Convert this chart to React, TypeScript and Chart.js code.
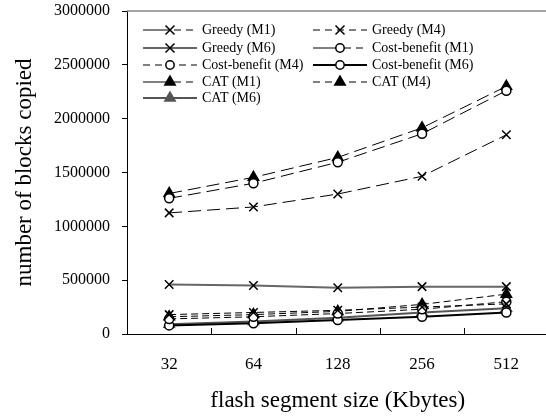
import React, { useEffect, useRef } from "react";
import { Chart, registerables } from "chart.js";

Chart.register(...registerables);

const categories = ["32", "64", "128", "256", "512"];

const greedyM1 = [180000, 200000, 220000, 250000, 280000];
const greedyM4 = [1125000, 1180000, 1300000, 1465000, 1850000];
const greedyM6 = [460000, 450000, 430000, 440000, 440000];
const costBenefitM1 = [140000, 160000, 190000, 230000, 300000];
const costBenefitM4 = [1260000, 1400000, 1595000, 1860000, 2260000];
const costBenefitM6 = [80000, 100000, 130000, 160000, 200000];
const catM1 = [160000, 180000, 210000, 275000, 370000];
const catM4 = [1305000, 1455000, 1640000, 1915000, 2300000];
const catM6 = [90000, 115000, 150000, 200000, 240000];

const yTicksMax = 3000000;
const yTicksStep = 500000;

const xTitle = "flash segment size (Kbytes)";
const yTitle = "number of blocks copied";

const SERIF = "'Liberation Serif', 'Times New Roman', serif";

type Kind = "cross" | "circle" | "triangle";

function drawMarker(ctx: CanvasRenderingContext2D, kind: Kind, x: number, y: number, fill: string) {
  ctx.save();
  ctx.setLineDash([]);
  ctx.strokeStyle = "#000";
  ctx.lineWidth = 1.5;
  if (kind === "cross") {
    const r = 4.5;
    ctx.beginPath();
    ctx.moveTo(x - r, y - r);
    ctx.lineTo(x + r, y + r);
    ctx.moveTo(x + r, y - r);
    ctx.lineTo(x - r, y + r);
    ctx.stroke();
  } else if (kind === "circle") {
    ctx.beginPath();
    ctx.arc(x, y, 4.2, 0, Math.PI * 2);
    ctx.fillStyle = "#fff";
    ctx.fill();
    ctx.stroke();
  } else {
    const r = 6;
    ctx.beginPath();
    ctx.moveTo(x, y - r);
    ctx.lineTo(x + r * 0.866, y + r * 0.5);
    ctx.lineTo(x - r * 0.866, y + r * 0.5);
    ctx.closePath();
    ctx.fillStyle = fill;
    ctx.strokeStyle = fill;
    ctx.fill();
    ctx.stroke();
  }
  ctx.restore();
}

const legendPlugin = {
  id: "customLegend",
  afterDatasetsDraw(chart: any) {
    const ctx: CanvasRenderingContext2D = chart.ctx;
    const area = chart.chartArea;
    ctx.save();
    // top frame line
    ctx.strokeStyle = "#888";
    ctx.lineWidth = 1.5;
    ctx.beginPath();
    ctx.moveTo(area.left, area.top);
    ctx.lineTo(area.right + 5, area.top);
    ctx.stroke();

    // inward x tick marks at category boundaries
    const xs = chart.scales.x;
    ctx.strokeStyle = "#000";
    ctx.lineWidth = 1;
    for (let i = 1; i < categories.length; i++) {
      const px = Math.round((xs.getPixelForValue(i - 1) + xs.getPixelForValue(i)) / 2) + 0.5;
      ctx.beginPath();
      ctx.moveTo(px, area.bottom);
      ctx.lineTo(px, area.bottom - 6);
      ctx.stroke();
    }

    // legend
    const rowY = [30, 48, 65, 82, 98];
    const colLine = [143, 313];
    const lineLen = 54;
    ctx.font = `14px ${SERIF}`;
    ctx.textBaseline = "middle";
    ctx.textAlign = "left";
    chart.data.datasets.forEach((ds: any, i: number) => {
      const row = Math.floor(i / 2);
      const col = i % 2;
      const y = rowY[row];
      const x0 = colLine[col];
      const x1 = x0 + lineLen;
      const mid = (x0 + x1) / 2;
      ctx.strokeStyle = ds.borderColor;
      ctx.lineWidth = ds.borderWidth;
      if (ds.legendPattern === "solid") {
        ctx.setLineDash([]);
        ctx.beginPath();
        ctx.moveTo(x0, y);
        ctx.lineTo(x1, y);
        ctx.stroke();
      } else if (ds.legendPattern === "half") {
        ctx.setLineDash([]);
        ctx.beginPath();
        ctx.moveTo(x0, y);
        ctx.lineTo(mid, y);
        ctx.stroke();
        ctx.setLineDash([7, 5]);
        ctx.beginPath();
        ctx.moveTo(mid + 4, y);
        ctx.lineTo(x1, y);
        ctx.stroke();
      } else {
        ctx.setLineDash([7, 5]);
        ctx.beginPath();
        ctx.moveTo(x0, y);
        ctx.lineTo(x1, y);
        ctx.stroke();
      }
      ctx.setLineDash([]);
      drawMarker(ctx, ds.markerKind, mid, y, ds.pointBackgroundColor);
      ctx.fillStyle = "#000";
      ctx.fillText(ds.label, x1 + 5, y);
    });
    ctx.restore();
  },
};

export default function App() {
  const ref = useRef<HTMLCanvasElement>(null);

  useEffect(() => {
    const mk = (
      label: string,
      data: number[],
      kind: Kind,
      line: "m1" | "m4" | "m6",
      color: string,
      fill: string
    ) => {
      const pointStyle = kind === "cross" ? "crossRot" : kind === "circle" ? "circle" : "triangle";
      return {
        label,
        data,
        markerKind: kind,
        legendPattern: line === "m1" ? "half" : line === "m4" ? "dash" : "solid",
        borderColor: color,
        borderWidth: line === "m6" ? 2 : 1,
        borderDash: line === "m1" ? [7, 4] : line === "m4" ? [13, 6] : [],
        pointStyle,
        pointRadius: kind === "cross" ? 6 : kind === "circle" ? 4.5 : 6,
        pointBorderColor: kind === "triangle" ? fill : "#000",
        pointBorderWidth: 1.5,
        pointBackgroundColor: fill,
        tension: 0,
        fill: false,
      };
    };

    const datasets = [
      mk("Greedy (M1)", greedyM1, "cross", "m1", "#000", "#000"),
      mk("Greedy (M4)", greedyM4, "cross", "m4", "#000", "#000"),
      mk("Greedy (M6)", greedyM6, "cross", "m6", "#666", "#000"),
      mk("Cost-benefit (M1)", costBenefitM1, "circle", "m1", "#000", "#fff"),
      mk("Cost-benefit (M4)", costBenefitM4, "circle", "m4", "#000", "#fff"),
      mk("Cost-benefit (M6)", costBenefitM6, "circle", "m6", "#000", "#fff"),
      mk("CAT (M1)", catM1, "triangle", "m1", "#000", "#000"),
      mk("CAT (M4)", catM4, "triangle", "m4", "#000", "#000"),
      mk("CAT (M6)", catM6, "triangle", "m6", "#555", "#555"),
    ];

    const chart = new Chart(ref.current!, {
      type: "line",
      data: { labels: categories, datasets: datasets as any },
      options: {
        animation: false,
        responsive: false,
        devicePixelRatio: 1,
        layout: { padding: { top: 11, right: 3, left: 0, bottom: 0 } },
        plugins: {
          legend: { display: false },
          tooltip: { enabled: false },
        },
        scales: {
          x: {
            type: "category",
            offset: true,
            grid: { display: true, drawOnChartArea: false, drawTicks: false, offset: true },
            border: { display: true, color: "#000", width: 1 },
            ticks: { color: "#000", font: { family: SERIF, size: 17 }, padding: 20, maxRotation: 0 },
            title: {
              display: true,
              text: xTitle,
              color: "#000",
              font: { family: SERIF, size: 23 },
              padding: { top: 0, bottom: 5 },
            },
            afterFit: (s: any) => {
              s.height = 86;
              s.paddingLeft = 0;
              s.paddingRight = 0;
            },
          },
          y: {
            min: 0,
            max: yTicksMax,
            ticks: {
              stepSize: yTicksStep,
              color: "#000",
              font: { family: SERIF, size: 16 },
              padding: 12,
              callback: (v: any) => String(v),
            },
            grid: { display: true, drawOnChartArea: false, drawTicks: true, tickLength: 5, color: "#000" },
            border: { display: true, color: "#000", width: 1 },
            title: {
              display: true,
              text: yTitle,
              color: "#000",
              font: { family: SERIF, size: 23 },
              padding: { top: 11, bottom: 0 },
            },
            afterFit: (s: any) => {
              s.width = 127;
              s.paddingTop = 0;
              s.paddingBottom = 0;
            },
          },
        },
      } as any,
      plugins: [legendPlugin],
    });
    return () => chart.destroy();
  }, []);

  return (
    <div
      style={{
        position: "fixed",
        left: 0,
        top: 0,
        width: 546,
        height: 420,
        overflow: "hidden",
        background: "#fff",
      }}
    >
      <canvas ref={ref} width={556} height={420} style={{ display: "block", width: 556, height: 420 }} />
    </div>
  );
}
